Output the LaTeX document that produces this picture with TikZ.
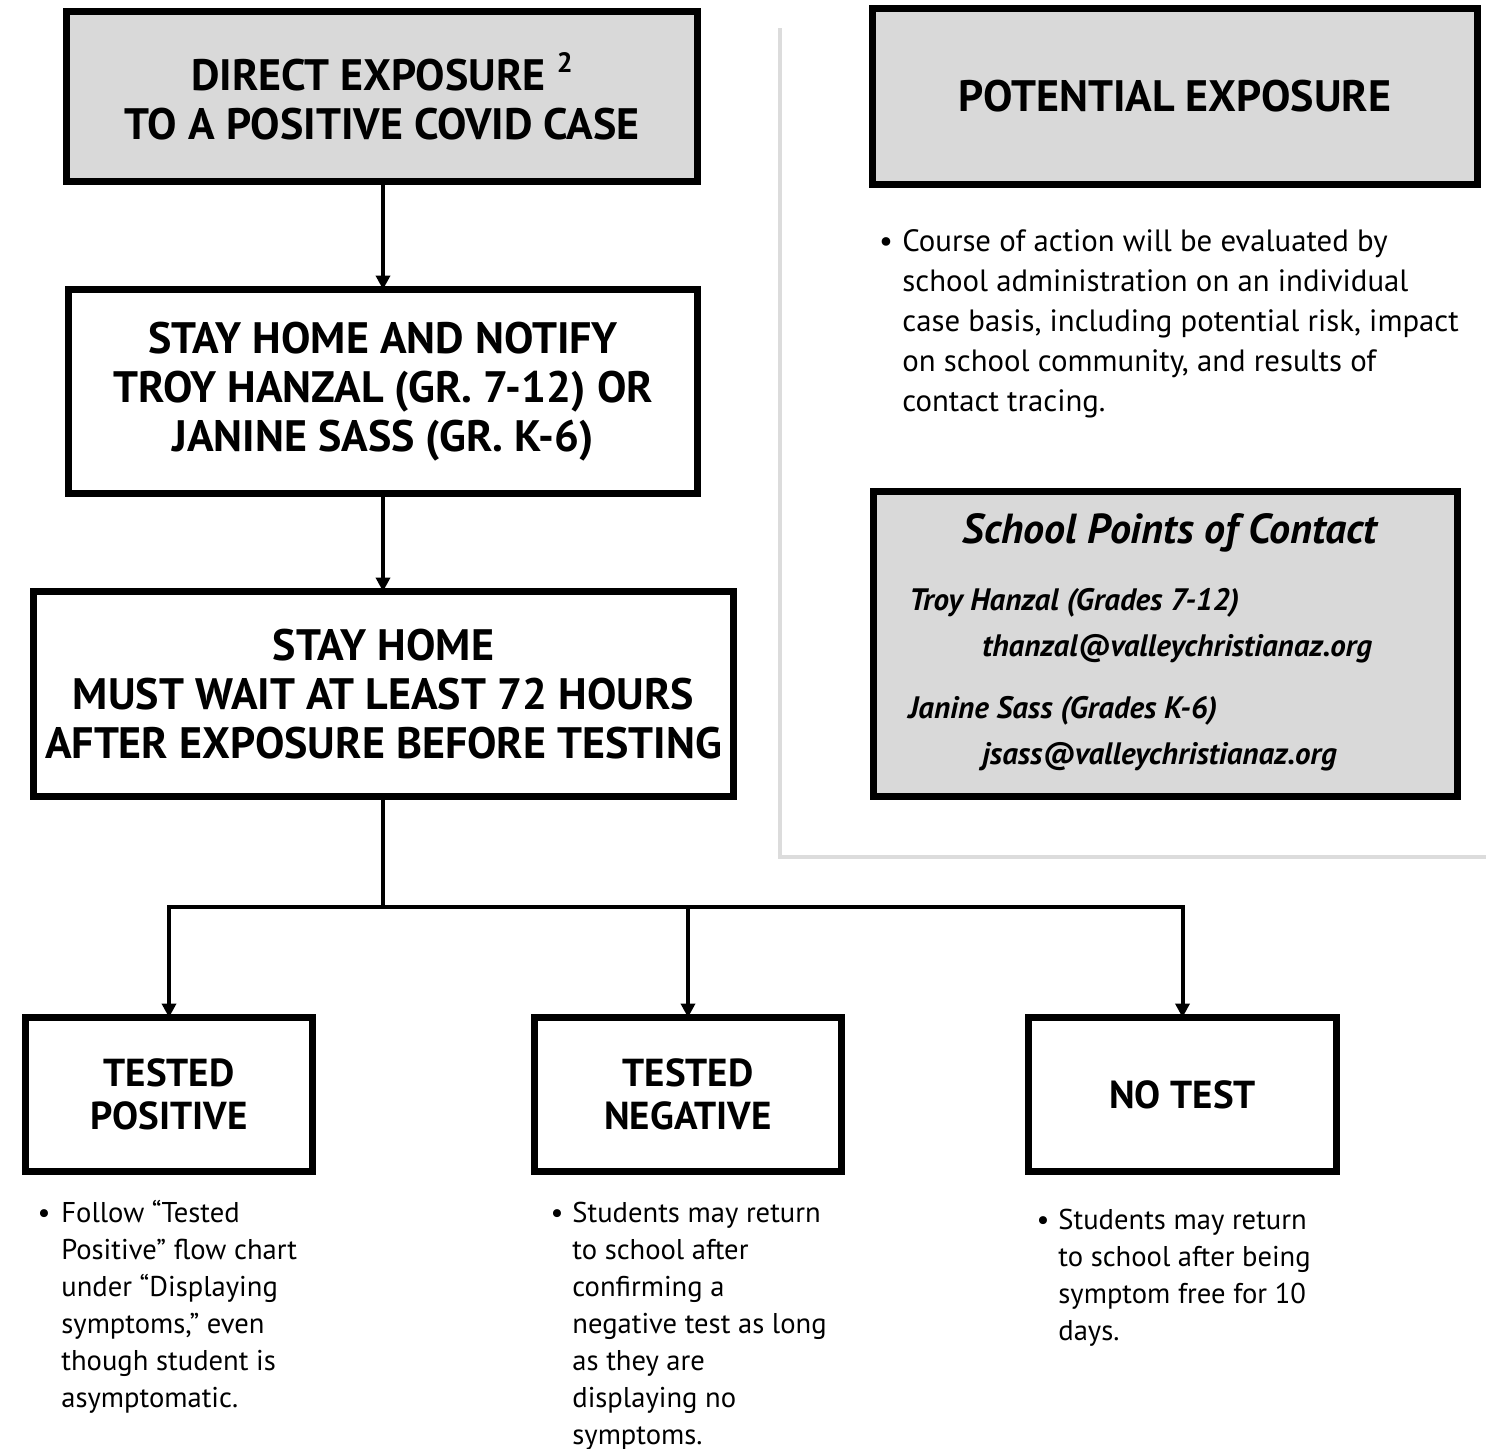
\documentclass[tikz,border=0pt]{standalone}
\usepackage{fontspec}
\setmainfont{PT Sans}
\usetikzlibrary{arrows.meta}
\definecolor{boxgray}{HTML}{D9D9D9}
\definecolor{framegray}{HTML}{DCDCDC}
\tikzset{
  flowbox/.style={draw=black, line width=3.5pt, inner sep=0pt, outer sep=0pt, align=center,
    font=\fontsize{22}{24.5}\selectfont\bfseries},
  graybox/.style={flowbox, fill=boxgray},
  smallbox/.style={flowbox, font=\fontsize{19.5}{21.5}\selectfont\bfseries},
  conn/.style={line width=2pt, -{Triangle[width=7pt,length=7pt]}},
  plainline/.style={line width=2pt},
  bodytext/.style={inner sep=0pt, anchor=north west, align=left, font=\fontsize{14.3}{18.5}\selectfont},
  bulletdot/.style={inner sep=0pt, anchor=base, font=\fontsize{14.3}{18.5}\selectfont},
  contacttext/.style={inner sep=0pt, anchor=base west, font=\fontsize{15.5}{18}\selectfont\bfseries\itshape},
  framegrayline/.style={draw=framegray, line width=2pt}
}
\begin{document}
\begin{tikzpicture}[x=0.5pt,y=-0.5pt]
\useasboundingbox (0,0) rectangle (1499,1448);
% gray frame
\coordinate (ftop) at (780,28);
\coordinate (fcorner) at (780,857);
\coordinate (fright) at (1486,857);
\draw[framegrayline] (ftop) -- (fcorner) -- (fright);

% left flow
\node[graybox, minimum width=315.5pt, minimum height=85pt] (direct) at (382,96.5)
  {DIRECT EXPOSURE {\fontsize{14}{14}\selectfont\raisebox{9pt}{2}}\\TO A POSITIVE COVID CASE};
\node[flowbox, minimum width=314.5pt, minimum height=102pt] (notify) at (383,391.5)
  {STAY HOME AND NOTIFY\\TROY HANZAL (GR. 7-12) OR\\JANINE SASS (GR. K-6)};
\node[flowbox, minimum width=350pt, minimum height=102.5pt] (wait) at (383.5,694)
  {STAY HOME\\MUST WAIT AT LEAST 72 HOURS\\AFTER EXPOSURE BEFORE TESTING};

\node[smallbox, minimum width=143.5pt, minimum height=77pt] (pos) at (169,1094.5)
  {TESTED\\POSITIVE};
\node[smallbox, minimum width=153.5pt, minimum height=77pt] (neg) at (688,1094.5)
  {TESTED\\NEGATIVE};
\node[smallbox, minimum width=154pt, minimum height=77pt] (notest) at (1182.5,1094.5)
  {NO TEST};

\draw[conn] (notify.north |- direct.south) -- (notify.north);
\draw[conn] (notify.south) -- (notify.south |- wait.north);
\coordinate (junction) at (383,907);
\draw[plainline] (notify.south |- wait.south) -- (junction);
\draw[conn] (junction) -| (pos.north);
\draw[conn] (junction) -| (notest.north);
\draw[conn] (neg.north |- junction) -- (neg.north);

% bottom texts (strut height 0.7*18.5pt = 12.95pt = 25.9px)
\node[bulletdot] (bpos) at (44,1222) {•};
\node[bodytext] (tpos) at (61,1196.1) {\strut Follow “Tested\\Positive” flow chart\\under “Displaying\\symptoms,” even\\though student is\\asymptomatic.};
\node[bulletdot] (bneg) at (557,1222) {•};
\node[bodytext] (tneg) at (572,1196.1) {\strut Students may return\\to school after\\confirming a\\negative test as long\\as they are\\displaying no\\symptoms.};
\node[bulletdot] (bno) at (1043,1229) {•};
\node[bodytext] (tno) at (1058,1203.1) {\strut Students may return\\to school after being\\symptom free for 10\\days.};

% right side
\node[graybox, minimum width=302.5pt, minimum height=88pt] (potential) at (1175,96.5)
  {POTENTIAL EXPOSURE};
\node[bulletdot, font=\fontsize{15.4}{20}\selectfont] (bpot) at (886,251) {•};
% strut height 0.7*20pt = 14pt = 28px
\node[bodytext, font=\fontsize{15.4}{20}\selectfont] (tpot) at (902,223)
  {\strut Course of action will be evaluated by\\school administration on an individual\\case basis, including potential risk, impact\\on school community, and results of\\contact tracing.};

\node[draw=black, fill=boxgray, line width=3.5pt, inner sep=0pt, outer sep=0pt,
  minimum width=292pt, minimum height=152.5pt] (contact) at (1165.5,644) {};
\node[inner sep=0pt, anchor=base, font=\fontsize{21}{24}\selectfont\bfseries\itshape] (ctitle) at (1170,543)
  {School Points of Contact};
\node[contacttext] (c1) at (909,610) {Troy Hanzal (Grades 7-12)};
\node[contacttext] (c1m) at (982,656) {thanzal@valleychristianaz.org};
\node[contacttext] (c2) at (908,718) {Janine Sass (Grades K-6)};
\node[contacttext] (c2m) at (982,764) {jsass@valleychristianaz.org};
\end{tikzpicture}
\end{document}
